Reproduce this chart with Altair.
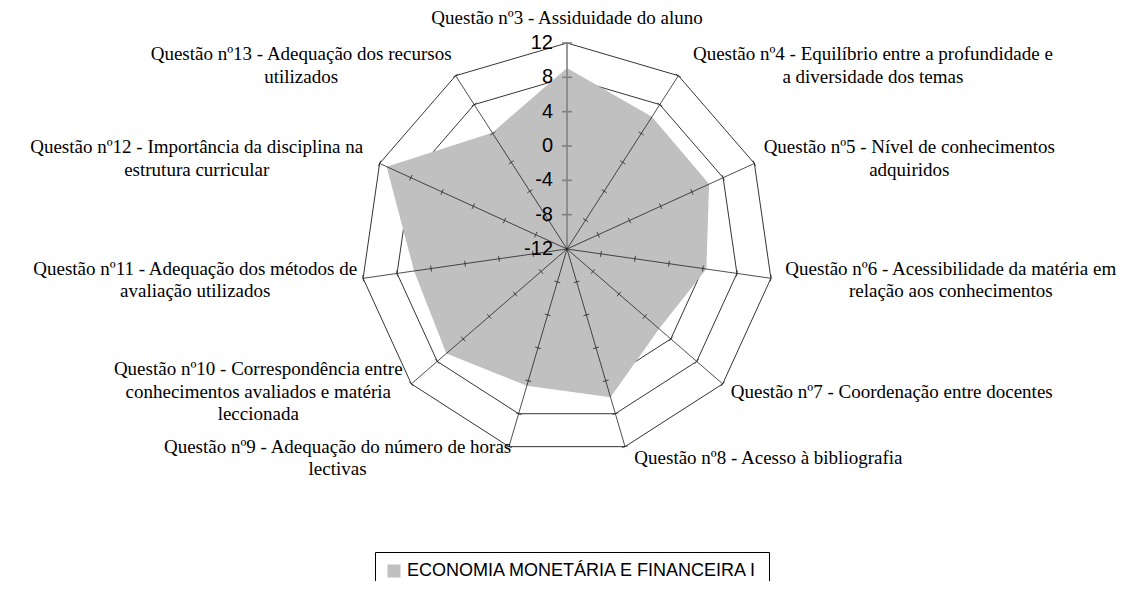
import math
import altair as alt
import pandas as pd

# ---------------- data ----------------
questions = [
    "Questão nº3 - Assiduidade do aluno",
    "Questão nº4 - Equilíbrio entre a profundidade e\na diversidade dos temas",
    "Questão nº5 - Nível de conhecimentos\nadquiridos",
    "Questão nº6 - Acessibilidade da matéria em\nrelação aos conhecimentos",
    "Questão nº7 - Coordenação entre docentes",
    "Questão nº8 - Acesso à bibliografia",
    "Questão nº9 - Adequação do número de horas\nlectivas",
    "Questão nº10 - Correspondência entre\nconhecimentos avaliados e matéria\nleccionada",
    "Questão nº11 - Adequação dos métodos de\navaliação utilizados",
    "Questão nº12 - Importância da disciplina na\nestrutura curricular",
    "Questão nº13 - Adequação dos recursos\nutilizados",
]
values = [9.1, 6.3, 6.2, 4.4, 2.2, 6.0, 4.6, 6.6, 6.0, 11.1, 4.1]
levels = [-12, -8, -4, 0, 4, 8, 12]
tick_labels = ["-12", "-8", "-4", "0", "4", "8", "12"]
series_name = "ECONOMIA MONETÁRIA E FINANCEIRA I"

# ---------------- layout ----------------
RMIN, RMAX = levels[0], levels[-1]
RADIUS_PX = 206.0
K = RADIUS_PX / (RMAX - RMIN)
N = len(questions)
W, H = 1110, 573
CX, CY = 559, 241          # centre of the radar inside the chart (px)
xs = alt.Scale(domain=[-CX, W - CX], nice=False, zero=False)
ys = alt.Scale(domain=[CY - H, CY], nice=False, zero=False)

LABEL_FONT = "Liberation Serif"
LABEL_SIZE = 19
LINE_H = 22.5
CHAR_W = 8.0
LABEL_GAP = 12

ANG = f"2*PI*datum.k/{N}"


def polar(ch, vfield):
    return (
        ch.transform_calculate(ang=ANG)
        .transform_calculate(r=f"(datum.{vfield} - ({RMIN}))*{K}")
        .transform_calculate(px="datum.r*sin(datum.ang)", py="datum.r*cos(datum.ang)")
    )


X = lambda f: alt.X(f, type="quantitative", scale=xs, axis=None)
Y = lambda f: alt.Y(f, type="quantitative", scale=ys, axis=None)

# grid polygons
grid_df = pd.DataFrame(
    [{"lev": lv, "k": k} for lv in levels[1:] for k in range(N)]
)
grid = polar(alt.Chart(grid_df), "lev").mark_line(
    interpolate="linear-closed", color="#000000", strokeWidth=0.8
).encode(x=X("px"), y=Y("py"), detail="lev:N", order="k:Q")

# filled series polygon
area_df = pd.DataFrame({"k": list(range(N)), "v": values, "serie": series_name})
area = polar(alt.Chart(area_df), "v").mark_line(
    interpolate="linear-closed", filled=True, strokeWidth=0
).encode(
    x=X("px"),
    y=Y("py"),
    order="k:Q",
    color=alt.Color(
        "serie:N",
        scale=alt.Scale(range=["#C0C0C0"]),
        legend=alt.Legend(
            orient="none",
            legendX=367,
            legendY=544,
            title=None,
            symbolType="square",
            symbolSize=169,
            symbolStrokeWidth=0,
            labelFont="Liberation Sans",
            labelFontSize=18,
            labelLimit=0,
            labelColor="#000000",
            strokeColor="#000000",
            padding=10,
        ),
    ),
)

# spokes
spoke_df = pd.DataFrame({"k": list(range(N)), "top": [RMAX] * N})
spokes = (
    polar(alt.Chart(spoke_df), "top")
    .transform_calculate(z="0", main="datum.k == 0")
    .mark_rule()
    .encode(
        x=X("z"), y=Y("z"), x2="px", y2="py",
        color=alt.Color("main:N", scale=alt.Scale(domain=[False, True], range=["#222222", "#808080"]), legend=None),
        strokeWidth=alt.StrokeWidth("main:N", scale=alt.Scale(domain=[False, True], range=[0.8, 1.6]), legend=None),
    )
)

# tick marks on spokes
tick_df = pd.DataFrame([{"lev": lv, "k": k} for lv in levels[1:] for k in range(N)])
ticks = (
    polar(alt.Chart(tick_df), "lev")
    .transform_calculate(main="datum.k == 0")
    .transform_calculate(t="datum.main ? 5 : 3")
    .transform_calculate(
        x1="datum.px - datum.t*cos(datum.ang)",
        x2="datum.px + datum.t*cos(datum.ang)",
        y1="datum.py + datum.t*sin(datum.ang)",
        y2="datum.py - datum.t*sin(datum.ang)",
    )
    .mark_rule()
    .encode(
        x=X("x1"), x2="x2", y=Y("y1"), y2="y2",
        color=alt.Color("main:N", scale=alt.Scale(domain=[False, True], range=["#222222", "#808080"]), legend=None),
        strokeWidth=alt.StrokeWidth("main:N", scale=alt.Scale(domain=[False, True], range=[0.8, 1.6]), legend=None),
    )
)

# value labels on the main axis
tl_df = pd.DataFrame({"lev": levels, "txt": tick_labels})
tlabels = (
    alt.Chart(tl_df)
    .transform_calculate(py=f"(datum.lev - ({RMIN}))*{K}", px="-14")
    .mark_text(align="right", baseline="middle", font="Liberation Sans", fontSize=20, color="#000000")
    .encode(x=X("px"), y=Y("py"), text="txt:N")
)

# category labels placed outside each vertex
lab_rows = []
for k, q in enumerate(questions):
    a = 2 * math.pi * k / N
    s, c = math.sin(a), math.cos(a)
    ax = (RADIUS_PX + LABEL_GAP) * s
    ay = (RADIUS_PX + LABEL_GAP) * c
    lines = q.split("\n")
    n = len(lines)
    maxlen = max(len(l) for l in lines)
    if abs(s) < 0.1:
        cx, cy = ax, ay + LINE_H / 2 + 1.5
    else:
        cx = ax + (1 if s > 0 else -1) * maxlen * CHAR_W / 2
        cy = ay + (n - 1) * LINE_H / 2   # first line position so block is centred
    lab_rows.append({"q": q, "lx": cx, "ly": cy})
lab_df = pd.DataFrame(lab_rows)
labels = alt.Chart(lab_df).mark_text(
    align="center", baseline="middle", lineBreak="\n", lineHeight=LINE_H,
    font=LABEL_FONT, fontSize=LABEL_SIZE, color="#000000",
).encode(x=X("lx"), y=Y("ly"), text="q:N")

chart = (
    alt.layer(grid, area, spokes, ticks, tlabels, labels)
    .resolve_scale(color="independent", strokeWidth="independent")
    .properties(width=W, height=H, autosize=alt.AutoSizeParams(type="none"), padding=0)
    .configure_view(strokeWidth=0)
)

chart.save("out.html", embed_options={"renderer": "svg", "actions": False})
